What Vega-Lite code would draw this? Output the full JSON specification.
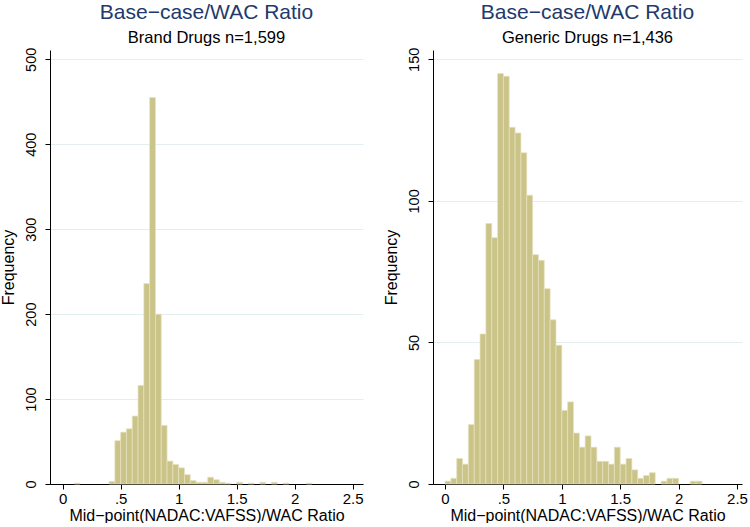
{
  "$schema": "https://vega.github.io/schema/vega-lite/v6.json",
  "background": "white",
  "padding": {"left": 0, "top": 1, "right": 0, "bottom": 0},
  "config": {
    "font": "Liberation Sans",
    "view": {"stroke": null},
    "concat": {"spacing": 19},
    "axis": {
      "domainColor": "black", "tickColor": "black", "labelColor": "black", "titleColor": "black",
      "titleFontWeight": "normal", "labelFont": "Liberation Sans", "titleFont": "Liberation Sans",
      "domainWidth": 1, "tickWidth": 1, "tickSize": 5
    },
    "title": {
      "font": "Liberation Sans", "fontSize": 21, "fontWeight": "normal", "color": "#22396C",
      "subtitleFont": "Liberation Sans", "subtitleFontSize": 16.5, "subtitleColor": "black",
      "anchor": "middle", "offset": 1, "subtitlePadding": 7
    }
  },
  "datasets": {
    "brand": [
      {"bin_start": 0.10, "bin_end": 0.15, "count": 1},
      {"bin_start": 0.40, "bin_end": 0.45, "count": 3},
      {"bin_start": 0.45, "bin_end": 0.50, "count": 51},
      {"bin_start": 0.50, "bin_end": 0.55, "count": 61},
      {"bin_start": 0.55, "bin_end": 0.60, "count": 65},
      {"bin_start": 0.60, "bin_end": 0.65, "count": 80},
      {"bin_start": 0.65, "bin_end": 0.70, "count": 116},
      {"bin_start": 0.70, "bin_end": 0.75, "count": 236},
      {"bin_start": 0.75, "bin_end": 0.80, "count": 455},
      {"bin_start": 0.80, "bin_end": 0.85, "count": 200},
      {"bin_start": 0.85, "bin_end": 0.90, "count": 69},
      {"bin_start": 0.90, "bin_end": 0.95, "count": 27},
      {"bin_start": 0.95, "bin_end": 1.00, "count": 23},
      {"bin_start": 1.00, "bin_end": 1.05, "count": 19},
      {"bin_start": 1.05, "bin_end": 1.10, "count": 11},
      {"bin_start": 1.10, "bin_end": 1.15, "count": 4},
      {"bin_start": 1.15, "bin_end": 1.20, "count": 2},
      {"bin_start": 1.20, "bin_end": 1.25, "count": 2},
      {"bin_start": 1.25, "bin_end": 1.30, "count": 8},
      {"bin_start": 1.30, "bin_end": 1.35, "count": 5},
      {"bin_start": 1.35, "bin_end": 1.40, "count": 2},
      {"bin_start": 1.40, "bin_end": 1.45, "count": 1},
      {"bin_start": 1.50, "bin_end": 1.55, "count": 2},
      {"bin_start": 1.60, "bin_end": 1.65, "count": 1},
      {"bin_start": 1.70, "bin_end": 1.75, "count": 2},
      {"bin_start": 1.80, "bin_end": 1.85, "count": 2},
      {"bin_start": 1.90, "bin_end": 1.95, "count": 1},
      {"bin_start": 2.10, "bin_end": 2.15, "count": 1}
    ],
    "generic": [
      {"bin_start": 0.00, "bin_end": 0.05, "count": 1},
      {"bin_start": 0.05, "bin_end": 0.10, "count": 2},
      {"bin_start": 0.10, "bin_end": 0.15, "count": 9},
      {"bin_start": 0.15, "bin_end": 0.20, "count": 7},
      {"bin_start": 0.20, "bin_end": 0.25, "count": 21},
      {"bin_start": 0.25, "bin_end": 0.30, "count": 44},
      {"bin_start": 0.30, "bin_end": 0.35, "count": 53},
      {"bin_start": 0.35, "bin_end": 0.40, "count": 92},
      {"bin_start": 0.40, "bin_end": 0.45, "count": 87},
      {"bin_start": 0.45, "bin_end": 0.50, "count": 145},
      {"bin_start": 0.50, "bin_end": 0.55, "count": 144},
      {"bin_start": 0.55, "bin_end": 0.60, "count": 126},
      {"bin_start": 0.60, "bin_end": 0.65, "count": 124},
      {"bin_start": 0.65, "bin_end": 0.70, "count": 117},
      {"bin_start": 0.70, "bin_end": 0.75, "count": 102},
      {"bin_start": 0.75, "bin_end": 0.80, "count": 81},
      {"bin_start": 0.80, "bin_end": 0.85, "count": 79},
      {"bin_start": 0.85, "bin_end": 0.90, "count": 69},
      {"bin_start": 0.90, "bin_end": 0.95, "count": 58},
      {"bin_start": 0.95, "bin_end": 1.00, "count": 49},
      {"bin_start": 1.00, "bin_end": 1.05, "count": 26},
      {"bin_start": 1.05, "bin_end": 1.10, "count": 29},
      {"bin_start": 1.10, "bin_end": 1.15, "count": 18},
      {"bin_start": 1.15, "bin_end": 1.20, "count": 13},
      {"bin_start": 1.20, "bin_end": 1.25, "count": 17},
      {"bin_start": 1.25, "bin_end": 1.30, "count": 13},
      {"bin_start": 1.30, "bin_end": 1.35, "count": 8},
      {"bin_start": 1.35, "bin_end": 1.40, "count": 8},
      {"bin_start": 1.40, "bin_end": 1.45, "count": 7},
      {"bin_start": 1.45, "bin_end": 1.50, "count": 13},
      {"bin_start": 1.50, "bin_end": 1.55, "count": 7},
      {"bin_start": 1.55, "bin_end": 1.60, "count": 9},
      {"bin_start": 1.60, "bin_end": 1.65, "count": 5},
      {"bin_start": 1.65, "bin_end": 1.70, "count": 2},
      {"bin_start": 1.70, "bin_end": 1.75, "count": 3},
      {"bin_start": 1.75, "bin_end": 1.80, "count": 4},
      {"bin_start": 1.85, "bin_end": 1.90, "count": 1},
      {"bin_start": 1.90, "bin_end": 1.95, "count": 2},
      {"bin_start": 1.95, "bin_end": 2.00, "count": 2},
      {"bin_start": 2.10, "bin_end": 2.15, "count": 1},
      {"bin_start": 2.15, "bin_end": 2.20, "count": 1}
    ]
  },
  "hconcat": [
    {
      "width": 313,
      "height": 434,
      "title": {"text": "Base−case/WAC Ratio", "subtitle": "Brand Drugs n=1,599"},
      "data": {"name": "brand"},
      "mark": {"type": "rect", "fill": "#CAC489", "stroke": "#E6E2BF", "strokeWidth": 0.7},
      "encoding": {
        "x": {
          "field": "bin_start", "type": "quantitative",
          "scale": {"domain": [-0.109, 2.589], "nice": false, "zero": false},
          "axis": {
            "values": [0, 0.5, 1, 1.5, 2, 2.5],
            "labelExpr": "datum.value == 0.5 ? '.5' : format(datum.value, '~g')",
            "grid": false, "labelFontSize": 15, "labelPadding": 2,
            "title": "Mid−point(NADAC:VAFSS)/WAC Ratio", "titleFontSize": 16, "titlePadding": 1
          }
        },
        "x2": {"field": "bin_end"},
        "y": {
          "field": "count", "type": "quantitative",
          "scale": {"domain": [0, 511], "nice": false},
          "axis": {
            "values": [0, 100, 200, 300, 400, 500],
            "grid": true, "gridColor": "#E3EEF0", "gridWidth": 1,
            "labelAngle": -90, "labelAlign": "center", "labelBaseline": "alphabetic",
            "labelFontSize": 14.5, "labelPadding": 10,
            "title": "Frequency", "titleFontSize": 16, "titlePadding": 6.5
          }
        },
        "y2": {"datum": 0}
      }
    },
    {
      "width": 309,
      "height": 434,
      "title": {"text": "Base−case/WAC Ratio", "subtitle": "Generic Drugs n=1,436"},
      "data": {"name": "generic"},
      "mark": {"type": "rect", "fill": "#CAC489", "stroke": "#E6E2BF", "strokeWidth": 0.7},
      "encoding": {
        "x": {
          "field": "bin_start", "type": "quantitative",
          "scale": {"domain": [-0.103, 2.543], "nice": false, "zero": false},
          "axis": {
            "values": [0, 0.5, 1, 1.5, 2, 2.5],
            "labelExpr": "datum.value == 0.5 ? '.5' : format(datum.value, '~g')",
            "grid": false, "labelFontSize": 15, "labelPadding": 2,
            "title": "Mid−point(NADAC:VAFSS)/WAC Ratio", "titleFontSize": 16, "titlePadding": 1
          }
        },
        "x2": {"field": "bin_end"},
        "y": {
          "field": "count", "type": "quantitative",
          "scale": {"domain": [0, 153.3], "nice": false},
          "axis": {
            "values": [0, 50, 100, 150],
            "grid": true, "gridColor": "#E3EEF0", "gridWidth": 1,
            "labelAngle": -90, "labelAlign": "center", "labelBaseline": "alphabetic",
            "labelFontSize": 14.5, "labelPadding": 10,
            "title": "Frequency", "titleFontSize": 16, "titlePadding": 6.5
          }
        },
        "y2": {"datum": 0}
      }
    }
  ]
}
